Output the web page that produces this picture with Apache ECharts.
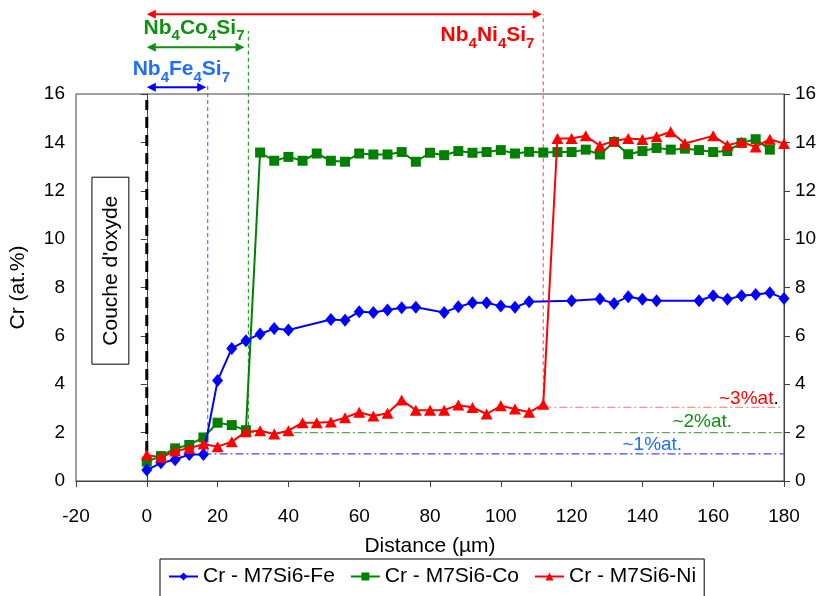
<!DOCTYPE html>
<html><head><meta charset="utf-8">
<script src="https://cdn.jsdelivr.net/npm/echarts@6/dist/echarts.min.js"></script>
<style>html,body{margin:0;padding:0;background:#fff}#c{width:829px;height:596px}</style>
</head><body><div id="c"></div>
<script>
// ---- data ----
const xTicks = [-20, 0, 20, 40, 60, 80, 100, 120, 140, 160, 180];
const yTicks = [0, 2, 4, 6, 8, 10, 12, 14, 16];
const seriesNames = ['Cr - M7Si6-Fe', 'Cr - M7Si6-Co', 'Cr - M7Si6-Ni'];
const feX = [0,4,8,12,16,20,24,28,32,36,40,52,56,60,64,68,72,76,84,88,92,96,100,104,108,120,128,132,136,140,144,156,160,164,168,172,176,180];
const feY = [0.45,0.75,0.88,1.1,1.1,4.15,5.48,5.8,6.08,6.3,6.24,6.68,6.65,7.0,6.97,7.07,7.16,7.18,6.97,7.2,7.37,7.37,7.23,7.18,7.41,7.45,7.52,7.34,7.62,7.51,7.45,7.45,7.66,7.51,7.66,7.71,7.78,7.55];
const coX = [0,4,8,12,16,20,24,28,32,36,40,44,48,52,56,60,64,68,72,76,80,84,88,92,96,100,104,108,112,116,120,124,128,132,136,140,144,148,152,156,160,164,168,172,176];
const coY = [0.8,1.03,1.35,1.49,1.8,2.41,2.31,2.1,13.58,13.24,13.4,13.24,13.54,13.24,13.2,13.54,13.5,13.5,13.6,13.2,13.57,13.47,13.64,13.57,13.6,13.68,13.54,13.61,13.58,13.6,13.6,13.7,13.5,14.02,13.51,13.64,13.77,13.7,13.74,13.68,13.6,13.64,13.98,14.13,13.7];
const niX = [0,4,8,12,16,20,24,28,32,36,40,44,48,52,56,60,64,68,72,76,80,84,88,92,96,100,104,108,112,116,120,124,128,132,136,140,144,148,152,160,164,168,172,176,180];
const niY = [1.07,0.98,1.24,1.35,1.53,1.42,1.62,2.04,2.08,1.94,2.08,2.41,2.41,2.44,2.62,2.84,2.69,2.8,3.35,2.93,2.93,2.93,3.14,3.04,2.77,3.11,2.98,2.84,3.17,14.16,14.16,14.27,13.86,14.06,14.16,14.12,14.23,14.44,13.95,14.27,13.88,14.02,13.81,14.13,13.95];

// annotations in data coordinates
const oxideLine = {x: 0, y0: 0.45, y1: 15.75};
const phaseBounds = [
  {x: 17.2, level: 1.12, top: 16.37, arrowEnd: 16.8, arrowY: 16.28, hStart: 16, label: '~1%at.'},
  {x: 28.7, level: 2.0, top: 18.6, arrowEnd: 27.6, arrowY: 17.93, hStart: 28, label: '~2%at.'},
  {x: 112, level: 3.05, top: 19.3, arrowEnd: 111.6, arrowY: 19.3, hStart: 112, label: '~3%at.'}
];
const phaseNames = [['Nb','4','Fe','4','Si','7'], ['Nb','4','Co','4','Si','7'], ['Nb','4','Ni','4','Si','7']];
const oxideLabel = "Couche d'oxyde";

const FONT = 'Liberation Sans, Arial, sans-serif';
const colors = ['#0000FF', '#008000', '#FF0000'];
const annColors = ['#1E6EFF', '#109010', '#FF0000'];
const vColors = ['#6A6AFF', '#33A033', '#FF6060'];
const hColors = ['#4A4AFF', '#5AA85A', '#FF7070'];

const zip = (xs, ys) => xs.map((x, i) => [x, ys[i]]);

const chart = echarts.init(document.getElementById('c'), null, {renderer: 'canvas'});

const yAxisBase = (pos) => ({
  type: 'value', position: pos, min: yTicks[0], max: yTicks[yTicks.length - 1], interval: 2,
  axisLine: {show: true, lineStyle: {color: '#404040', width: 1}},
  axisTick: {show: true, length: 6, lineStyle: {color: '#404040'}},
  splitLine: {show: false},
  axisLabel: {fontSize: 19, color: '#000', fontFamily: FONT, margin: 11}
});

const option = {
  animation: false,
  backgroundColor: '#fff',
  grid: {left: 74, right: 45, top: 94, bottom: 115, show: true, borderColor: '#404040', borderWidth: 1},
  xAxis: {
    type: 'value', min: xTicks[0], max: xTicks[xTicks.length - 1], interval: 20,
    name: 'Distance (µm)', nameLocation: 'middle', nameGap: 55,
    nameTextStyle: {fontSize: 21, color: '#000', fontFamily: FONT},
    axisLine: {show: true, onZero: false, lineStyle: {color: '#404040', width: 1}},
    axisTick: {show: true, length: 6, lineStyle: {color: '#404040'}},
    splitLine: {show: false},
    axisLabel: {fontSize: 19, color: '#000', fontFamily: FONT, margin: 26}
  },
  yAxis: [
    Object.assign(yAxisBase('left'), {name: 'Cr (at.%)', nameLocation: 'middle', nameGap: 47, nameRotate: 90,
      nameTextStyle: {fontSize: 21, color: '#000', fontFamily: FONT}}),
    yAxisBase('right')
  ],
  legend: {
    left: 160, top: 559, orient: 'horizontal',
    padding: [7, 8, 14, 8], itemGap: 15, itemWidth: 29, itemHeight: 10,
    borderColor: '#000', borderWidth: 1,
    textStyle: {fontSize: 21, color: '#000', fontFamily: FONT},
    data: seriesNames
  },
  series: [
    {name: seriesNames[0], type: 'line', data: zip(feX, feY), symbol: 'diamond', symbolSize: [11, 13],
      lineStyle: {color: colors[0], width: 2}, itemStyle: {color: colors[0]}, z: 3},
    {name: seriesNames[1], type: 'line', data: zip(coX, coY), symbol: 'rect', symbolSize: 10,
      lineStyle: {color: colors[1], width: 2}, itemStyle: {color: colors[1]}, z: 2},
    {name: seriesNames[2], type: 'line', data: zip(niX, niY), symbol: 'triangle', symbolSize: [12, 11],
      lineStyle: {color: colors[2], width: 2}, itemStyle: {color: colors[2]}, z: 4}
  ]
};
chart.setOption(option);

const P = (x, y) => chart.convertToPixel({gridIndex: 0}, [x, y]);
const g = [];
function line(a, b, color, width, dash) {
  g.push({type: 'line', z: 1, shape: {x1: a[0], y1: a[1], x2: b[0], y2: b[1]},
    style: {stroke: color, lineWidth: width, lineDash: dash || null}});
}
function arrowHead(tip, dir, color) {
  const L = 9, W = 4.5;
  g.push({type: 'polygon', z: 1, shape: {points: [[tip[0], tip[1]], [tip[0] - dir * L, tip[1] - W], [tip[0] - dir * L, tip[1] + W]]},
    style: {fill: color}});
}
function richName(parts, color) {
  let t = '';
  parts.forEach((p, i) => { t += (i % 2 === 0 ? '{m|' : '{s|') + p + '}'; });
  return {text: t, fill: color, rich: {
    m: {fontSize: 21, fontWeight: 'bold', fontFamily: FONT, fill: color, verticalAlign: 'top', lineHeight: 22},
    s: {fontSize: 15, fontWeight: 'bold', fontFamily: FONT, fill: color, verticalAlign: 'top', lineHeight: 15, padding: [11, 0, 0, 0]}
  }};
}

// oxide layer boundary
line(P(oxideLine.x, oxideLine.y0), P(oxideLine.x, oxideLine.y1), '#000', 3, [11, 7]);

phaseBounds.forEach((b, i) => {
  line(P(b.x, b.level), P(b.x, b.top), vColors[i], 1.2, [4, 3]);
  line(P(b.hStart, b.level), P(xTicks[xTicks.length - 1], b.level), hColors[i], 1.2, [8, 3, 2, 3]);
  const c = i === 0 ? '#0000FF' : annColors[i];
  const a = P(0, b.arrowY), e = P(b.arrowEnd, b.arrowY);
  line([a[0] + 4, a[1]], [e[0] - 4, e[1]], c, 2);
  arrowHead(a, -1, c);
  arrowHead(e, 1, c);
});

// phase labels
const feL = P(-4.0, 16.5);
g.push({type: 'text', z: 5, x: feL[0], y: feL[1] - 23, style: Object.assign(richName(phaseNames[0], annColors[0]), {align: 'left', verticalAlign: 'top'})});
const coL = P(-0.9, 18.2);
g.push({type: 'text', z: 5, x: coL[0], y: coL[1] - 23, style: Object.assign(richName(phaseNames[1], annColors[1]), {align: 'left', verticalAlign: 'top'})});
const niL = P(109.5, 19.3);
g.push({type: 'text', z: 5, x: niL[0], y: niL[1] + 11, style: Object.assign(richName(phaseNames[2], annColors[2]), {align: 'right', verticalAlign: 'top'})});

// level labels
const lv = [P(142.8, 1.12), P(156.9, 2.0), P(178.5, 3.05)];
g.push({type: 'text', z: 5, x: lv[0][0], y: lv[0][1] + 0, style: {text: phaseBounds[0].label, fill: annColors[0], fontSize: 19, fontFamily: FONT, align: 'center', verticalAlign: 'bottom'}});
g.push({type: 'text', z: 5, x: lv[1][0], y: lv[1][1] - 1, style: {text: phaseBounds[1].label, fill: annColors[1], fontSize: 19, fontFamily: FONT, align: 'center', verticalAlign: 'bottom'}});
g.push({type: 'text', z: 5, x: lv[2][0], y: lv[2][1] + 1, style: {text: '{r|~3%at}{k|.}', fontSize: 19, fontFamily: FONT, align: 'right', verticalAlign: 'bottom',
  rich: {r: {fill: annColors[2], fontSize: 19, fontFamily: FONT}, k: {fill: '#000', fontSize: 19, fontFamily: FONT}}}});

// oxide box
const b0 = P(-15.5, 12.56), b1 = P(-5.07, 4.83);
g.push({type: 'rect', z: 5, shape: {x: b0[0], y: b0[1], width: b1[0] - b0[0], height: b1[1] - b0[1]},
  style: {fill: '#fff', stroke: '#000', lineWidth: 1}});
g.push({type: 'text', z: 6, x: (b0[0] + b1[0]) / 2 + 1, y: (b0[1] + b1[1]) / 2, rotation: Math.PI / 2,
  style: {text: oxideLabel, fill: '#000', fontSize: 21, fontFamily: FONT, align: 'center', verticalAlign: 'middle'}});

chart.setOption({graphic: g});
</script></body></html>
